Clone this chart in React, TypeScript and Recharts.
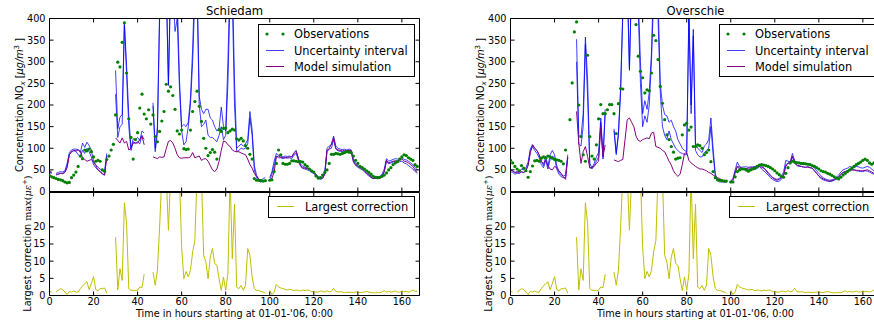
// NOx concentraties Schiedam / Overschie met grootste correctie eronder
import React from "react";
import { ComposedChart, Line, XAxis, YAxis } from "recharts";

const HOURS: number[] = Array.from({ length: 168 }, (_, i) => i);
const HOUR_TICKS = [0, 20, 40, 60, 80, 100, 120, 140, 160];
const CONC_TICKS = [0, 50, 100, 150, 200, 250, 300, 350, 400];
const CORR_TICKS = [0, 5, 10, 15, 20];

type V = number | null;

const schiedamObs: V[] = [
  37, 34, 32, 30, 28, 27, 25, 22, 20, 21,
  32, 38, 45, 58, 82, 76, 96, 94, 98, 92,
  80, 70, 72, 70, 50, 47, 74, 82, 96, 109,
  177, 299, 288, 345, 390, 274, 168, 125, 75, 120,
  136, 193, 225, 179, 168, 189, 156, 177, 127, 115,
  139, 163, 185, 248, 232, 242, 222, 190, 140, 133,
  142, 99, 97, 98, 142, 185, 208, 232, 197, 162,
  123, 100, 83, 90, 97, 91, 75, 143, 139, 146,
  147, 136, 140, 144, 142, 122, 119, 123, 117, 106,
  100, 86, 75, 30, 26, 26, 25, 24, 25, null,
  26, 27, 46, 65, 96, 85, 65, 63, 63, 65,
  71, 71, 70, 69, 69, 68, 62, 58, 52, 48,
  45, 36, 31, 32, 38, 44, 50, 65, 86, 86,
  88, 87, 86, 88, 90, 92, 91, 90, 82, 72,
  65, 58, 55, 52, 48, 44, 40, 35, 33, 32,
  33, 35, 38, 43, 50, 55, 62, 66, 69, 75,
  80, 85, 83, 78, 75, 72, 62, 58,
];

const schiedamModel: V[] = [
  45, 44, null, 40, 40, 42, 41, 44, 55, 85,
  92, 95, 94, 96, 93, 78, 74, 70, 72, 74,
  68, 60, 50, 46, 42, 38, 80, null, null, null,
  124, 118, 112, 124, 112, 116, 96, 100, 112, 112,
  112, 120, 128, 108, null, null, null, 80, 78, 76,
  80, 79, 80, 99, 116, 118, 112, 100, 85, 78,
  77, 78, 78, 78, 80, 90, 78, 80, 82, 72,
  75, 76, 70, 60, 50, 46, 52, 70, 95, 117,
  115, 108, 104, 96, 93, 92, 92, 89, 87, 85,
  75, 62, 54, 42, 35, 29, 26, 25, 25, null,
  26, 30, 46, 80, 82, 79, 78, 78, 79, 80,
  80, 88, 93, 77, 60, 55, 54, 53, 51, 48,
  45, 38, 32, 30, 31, 40, 95, 99, 110, 125,
  100, 96, 95, 94, 95, 94, 95, 94, 70, 62,
  58, 55, 52, 48, 42, 38, 33, 30, 30, 30,
  30, 35, 46, 72, 66, 68, 70, 71, 71, 72,
  75, 70, 69, 66, 62, 58, 50, 45,
];

const schiedamHigh: V[] = [
  47, 45, null, 42, 44, 46, 45, 48, 65, 90,
  96, 98, 98, 97, 90, 112, 102, 114, 106, 96,
  70, 62, 56, 52, 48, 47, 88, null, null, null,
  280, 145, 172, 178, 392, 292, 175, 100, 122, 120,
  125, 118, 140, 135, null, null, null, 205, 100, 150,
  420, 520, 500, 500, 250, 500, 500, 420, 450, 260,
  150, 155, 150, 160, 215, 330, 500, 500, 220, 190,
  180, 190, 190, 170, 165, 150, 140, 145, 195, 150,
  140, 300, 500, 500, 255, 100, 105, 110, 105, 110,
  120, 185, 143, 60, 38, 28, 26, 30, 32, null,
  32, 46, 70, 88, 84, 82, 80, 82, 81, 82,
  80, 90, 95, 76, 64, 58, 56, 54, 52, 48,
  46, 40, 34, 32, 34, 45, 100, 105, 108, 128,
  105, 100, 98, 97, 98, 96, 98, 96, 74, 65,
  60, 57, 54, 50, 45, 40, 36, 34, 34, 34,
  35, 40, 52, 76, 70, 72, 74, 76, 75, 76,
  78, 74, 73, 70, 66, 62, 56, 50,
];

const schiedamLow: V[] = [
  43, 42, null, 38, 40, 42, 42, 45, 58, 85,
  92, 94, 93, 85, 82, 95, 88, 100, 92, 80,
  62, 55, 50, 46, 40, 38, 82, null, null, null,
  225, 125, 150, 155, 385, 270, 150, 95, 115, 112,
  115, 110, 130, 120, null, null, null, 198, 92, 135,
  400, 500, 480, 470, 245, 480, 470, 370, 400, 240,
  140, 108, 115, 150, 200, 300, 450, 450, 200, 150,
  155, 165, 130, 125, 125, 120, 115, 130, 150, 120,
  130, 250, 450, 450, 200, 92, 95, 100, 98, 100,
  110, 170, 130, 50, 32, 24, 22, 24, 26, null,
  26, 40, 60, 82, 78, 78, 76, 78, 77, 78,
  76, 84, 88, 72, 58, 53, 52, 50, 48, 44,
  42, 35, 30, 28, 30, 40, 92, 98, 100, 120,
  98, 94, 93, 92, 92, 91, 93, 90, 68, 60,
  56, 53, 50, 46, 40, 36, 32, 30, 30, 30,
  31, 36, 46, 70, 64, 66, 68, 70, 68, 69,
  70, 66, 64, 60, 56, 52, 46, 42,
];

const overschieObs: V[] = [
  72, 66, 58, 52, 48, 60, 54, 48, 33, 46,
  59, 71, 72, 70, 77, 80, 77, 82, 80, 77,
  74, 73, 72, 70, 64, 96, null, 166, 251, 369,
  392, 200, 127, 85, 70, 315, 127, 82, 75, 108,
  168, 201, 180, 180, 189, 201, 201, 180, 134, 203,
  238, 237, null, null, null, null, null, 386, 313, 278,
  263, 228, 235, 233, 274, 361, 349, 305, 243, 204,
  166, 131, 120, 104, 91, 75, 77, 78, 131, 154,
  158, 142, 149, 104, 104, 108, 106, 100, 85, 90,
  96, 69, 46, 32, 27, 26, 25, 24, 24, null,
  22, 22, 34, 46, 50, 52, 52, 50, 47, 50,
  52, 54, 58, 61, 62, 61, 60, 58, 55, 52,
  48, 43, 39, 35, 33, 42, 55, 66, 70, 68,
  67, 66, 65, 65, 64, 63, 62, 60, 58, 55,
  52, 48, 46, 45, 42, 40, 37, 34, 31, 29,
  33, 38, 42, 46, 50, 54, 58, 62, 65, 68,
  72, 75, 72, 66, 63, 66, 60, 58,
];

const overschieModel: V[] = [
  50, 48, 44, 45, 43, 46, 44, 48, 60, 90,
  108, 100, 95, 85, 70, 65, 72, 60, 52, 50,
  58, 55, 48, 42, 34, 28, 80, null, null, null,
  185, 112, 65, 92, 104, 81, 54, 56, 58, 65,
  70, 150, 81, 108, null, null, null, 73, 71, 69,
  72, 74, 120, 166, 170, 160, 150, 128, 118, 116,
  120, 122, 124, 122, 135, 137, 104, 102, 100, 95,
  92, 81, 70, 61, 48, 40, 35, 40, 62, 88,
  90, 72, 66, 62, 58, 55, 52, 52, 50, 48,
  44, 42, 38, 35, 32, 30, 26, 25, 23, null,
  23, 28, 45, 58, 56, 54, 53, 53, 54, 55,
  55, 56, 57, 58, 56, 54, 48, 42, 36, 32,
  28, 26, 28, 32, 38, 58, 66, 68, 82, 68,
  61, 60, 58, 57, 56, 56, 55, 54, 48, 42,
  36, 32, 29, 27, 25, 24, 25, 27, 30, 34,
  40, 44, 46, 48, 50, 50, 50, 49, 49, 48,
  48, 49, 50, 48, 45, 42, 40, 38,
];

const overschieHigh: V[] = [
  50, 47, 44, 46, 45, 52, 50, 55, 68, 98,
  108, 100, 95, 85, 70, 60, 82, 58, 85, 95,
  85, 60, 45, 38, 36, 38, 85, null, null, null,
  352, 130, 125, 180, 357, 260, 65, 55, 65, 80,
  90, 170, 80, 190, null, null, null, 145, 90, 135,
  240, 420, 500, 500, 285, 500, 500, 500, 450, 300,
  180, 210, 190, 230, 320, 500, 500, 450, 250, 200,
  178, 175, 160, 165, 150, 140, 120, 110, 100, 95,
  92, 420, 200, 375, 110, 100, 95, 90, 105, 110,
  120, 170, 100, 40, 28, 26, 25, 26, 24, null,
  24, 30, 50, 68, 58, 56, 57, 57, 56, 57,
  57, 58, 58, 62, 58, 55, 50, 44, 38, 33,
  30, 28, 30, 35, 45, 72, 70, 68, 88, 72,
  66, 65, 64, 62, 64, 65, 62, 60, 54, 48,
  42, 36, 32, 29, 27, 26, 27, 29, 33, 38,
  45, 50, 52, 54, 58, 56, 56, 58, 57, 55,
  54, 56, 58, 56, 52, 48, 45, 42,
];

const overschieLow: V[] = [
  46, 44, 40, 42, 42, 45, 44, 48, 62, 92,
  104, 95, 88, 78, 62, 55, 72, 52, 75, 82,
  78, 52, 40, 34, 32, 32, 78, null, null, null,
  300, 110, 105, 150, 340, 220, 58, 52, 60, 70,
  80, 160, 75, 180, null, null, null, 140, 85, 130,
  230, 410, 480, 480, 280, 480, 480, 480, 420, 250,
  150, 175, 160, 200, 300, 450, 450, 400, 230, 150,
  130, 120, 140, 120, 110, 100, 95, 90, 88, 85,
  85, 400, 180, 360, 95, 85, 80, 80, 90, 95,
  100, 150, 85, 35, 25, 22, 22, 22, 21, null,
  20, 25, 42, 58, 52, 52, 52, 52, 51, 52,
  52, 52, 53, 58, 52, 48, 43, 38, 32, 28,
  25, 23, 24, 28, 36, 62, 65, 64, 80, 66,
  60, 58, 58, 56, 56, 58, 55, 54, 48, 42,
  35, 30, 27, 25, 24, 23, 24, 26, 29, 33,
  39, 44, 46, 47, 48, 50, 50, 48, 47, 46,
  46, 48, 47, 45, 42, 40, 38, 36,
];

// zelfde correctiereeks in beide panelen
const largestCorrection: V[] = [
  1.2, 1.0, null, 1.0, 1.5, 2.0, 1.7, 1.0, 0.3, 1.2,
  1.0, 1.3, 1.0, 1.0, 2.0, 2.8, 3.5, 4.0, 1.7, 3.5,
  5.5, 1.7, 1.4, 2.0, 2.0, 2.2, 0.7, null, null, null,
  17, 1.6, 7.8, 4.4, 27, 21, 2.0, 1.5, 1.5, 1.5,
  1.5, 2.5, 2.3, 6.2, null, null, null, 6.8, 3.0, 7.3,
  20, 35, 40, 35, 19, 35, 40, 40, 35, 35,
  14, 4.9, 7.0, 5.4, 7.3, 12.7, 16, 35, 40, 35,
  11.7, 9.8, 4.9, 11.2, 13.7, 9.3, 8.8, 4.9, 1.5, 5.4,
  1.5, 6.3, 35, 10.7, 26.6, 2.4, 2.0, 2.9, 1.5, 3.0,
  13.7, 11.7, 5.4, 2.0, 1.5, 1.5, 1.2, 1.0, 0.7, null,
  1.5, 0.3, 1.0, 3.2, 2.5, 2.2, 2.0, 1.8, 1.6, 1.8,
  1.7, 1.4, 1.6, 1.5, 1.3, 1.6, 1.4, 1.6, 1.5, 1.1,
  1.2, 1.0, 1.0, 1.3, 1.2, 1.0, 1.4, 1.1, 1.2, 2.1,
  1.2, 1.0, 1.1, 1.0, 0.8, 1.0, 0.9, 0.9, 0.9, 1.0,
  1.0, 0.9, 0.9, 1.0, 1.2, 1.0, 0.8, 0.8, 0.8, 0.9,
  0.8, 1.1, 1.4, 1.0, 1.2, 1.0, 1.1, 1.3, 1.0, 1.0,
  1.3, 1.1, 1.2, 1.0, 1.2, 1.6, 1.2, 1.2,
];

const FONT = "'DejaVu Sans', sans-serif";
const GREEN = "#008000";
const BLUE = "#0000ff";
const PURPLE = "#800080";
const YELLOW = "#bfbf00";
const TICK = 4;
const LABEL_SIZE = 9.7;
const LEGEND_SIZE = 11.4;

const PANEL_W = 440;
const PANEL_H = 324;
const PLOT_LEFT = 49.5;
const PLOT_RIGHT = 419.5;
// axes need a non-zero size or recharts skips drawing them
const AX = 1;

interface Row {
  h: number;
  obs: V;
  low: V;
  high: V;
  model: V;
  corr: V;
}

const xTick = (side: "top" | "bottom", withLabel: boolean) => (props: any) => {
  const { x, y, payload } = props;
  const dir = side === "bottom" ? -1 : 1;
  return (
    <g>
      <line x1={x} x2={x} y1={y} y2={y + dir * TICK} stroke="#000" />
      {withLabel && (
        <text x={x} y={y + 9} textAnchor="middle" fontSize={LABEL_SIZE} fontFamily={FONT} fill="#000">
          {payload.value}
        </text>
      )}
    </g>
  );
};

const yTick = (side: "left" | "right", withLabel: boolean) => (props: any) => {
  const { x, y, payload } = props;
  const dir = side === "left" ? 1 : -1;
  return (
    <g>
      <line x1={x} x2={x + dir * TICK} y1={y} y2={y} stroke="#000" />
      {withLabel && (
        <text x={x - 4} y={y} dy="0.35em" textAnchor="end" fontSize={LABEL_SIZE} fontFamily={FONT} fill="#000">
          {payload.value}
        </text>
      )}
    </g>
  );
};

interface SubplotProps {
  rows: Row[];
  plotTop: number;
  plotBottom: number;
  yMax: number;
  yTicks: number[];
  xLabels: boolean;
  children: React.ReactNode;
}

const Subplot: React.FC<SubplotProps> = ({ rows, plotTop, plotBottom, yMax, yTicks, xLabels, children }) => (
  <div style={{ position: "absolute", left: 0, top: 0 }}>
    <ComposedChart
      width={PANEL_W}
      height={PANEL_H}
      data={rows}
      margin={{
        top: plotTop - AX,
        bottom: PANEL_H - plotBottom - AX,
        left: PLOT_LEFT - AX,
        right: PANEL_W - PLOT_RIGHT - AX,
      }}
    >
      <XAxis
        xAxisId="b"
        dataKey="h"
        type="number"
        domain={[0, 168]}
        ticks={HOUR_TICKS}
        interval={0}
        height={AX}
        tickSize={0}
        tickMargin={0}
        tickLine={false}
        axisLine={{ stroke: "#000" }}
        tick={xTick("bottom", xLabels)}
        allowDataOverflow
      />
      <XAxis
        xAxisId="t"
        orientation="top"
        dataKey="h"
        type="number"
        domain={[0, 168]}
        ticks={HOUR_TICKS}
        interval={0}
        height={AX}
        tickSize={0}
        tickMargin={0}
        tickLine={false}
        axisLine={{ stroke: "#000" }}
        tick={xTick("top", false)}
        allowDataOverflow
      />
      <YAxis
        yAxisId="l"
        type="number"
        domain={[0, yMax]}
        ticks={yTicks}
        interval={0}
        width={AX}
        tickSize={0}
        tickMargin={0}
        tickLine={false}
        axisLine={{ stroke: "#000" }}
        tick={yTick("left", true)}
        allowDataOverflow
      />
      <YAxis
        yAxisId="r"
        orientation="right"
        type="number"
        domain={[0, yMax]}
        ticks={yTicks}
        interval={0}
        width={AX}
        tickSize={0}
        tickMargin={0}
        tickLine={false}
        axisLine={{ stroke: "#000" }}
        tick={yTick("right", false)}
        allowDataOverflow
      />
      {children}
    </ComposedChart>
  </div>
);

interface PanelProps {
  left: number;
  title: string;
  obs: V[];
  low: V[];
  high: V[];
  model: V[];
}

const Panel: React.FC<PanelProps> = ({ left, title, obs, low, high, model }) => {
  const rows: Row[] = HOURS.map((h) => ({
    h,
    obs: obs[h],
    low: low[h],
    high: high[h],
    model: model[h],
    corr: largestCorrection[h],
  }));
  const cx = (PLOT_LEFT + PLOT_RIGHT) / 2;
  return (
    <div style={{ position: "absolute", left, top: 0, width: PANEL_W, height: PANEL_H }}>
      <Subplot rows={rows} plotTop={18.5} plotBottom={191.5} yMax={400} yTicks={CONC_TICKS} xLabels={false}>
        <Line
          xAxisId="b"
          yAxisId="l"
          dataKey="obs"
          stroke="none"
          dot={{ r: 1.6, fill: GREEN, stroke: "none" }}
          activeDot={false}
          isAnimationActive={false}
        />
        <Line xAxisId="b" yAxisId="l" dataKey="low" stroke={BLUE} strokeOpacity={0.75} strokeWidth={1} dot={false} isAnimationActive={false} />
        <Line xAxisId="b" yAxisId="l" dataKey="high" stroke={BLUE} strokeOpacity={0.75} strokeWidth={1} dot={false} isAnimationActive={false} />
        <Line xAxisId="b" yAxisId="l" dataKey="model" stroke={PURPLE} strokeWidth={1} dot={false} isAnimationActive={false} />
      </Subplot>
      <Subplot rows={rows} plotTop={192.5} plotBottom={295.5} yMax={30} yTicks={CORR_TICKS} xLabels>
        <Line xAxisId="b" yAxisId="l" dataKey="corr" stroke={YELLOW} strokeWidth={1} dot={false} isAnimationActive={false} />
      </Subplot>
      <svg
        width={PANEL_W}
        height={PANEL_H}
        style={{ position: "absolute", left: 0, top: 0, pointerEvents: "none" }}
        fontFamily={FONT}
      >
        <text x={cx} y={14.5} textAnchor="middle" fontSize={11.6} fill="#000">
          {title}
        </text>
        <text transform="translate(22.5,105) rotate(-90)" textAnchor="middle" fontSize={LABEL_SIZE} fill="#000">
          <tspan>Concentration NO</tspan>
          <tspan dy={2.5} fontSize={7} fontStyle="italic">x</tspan>
          <tspan dy={-2.5}>{"  ["}</tspan>
          <tspan fontStyle="italic">μg/m</tspan>
          <tspan dy={-3.5} fontSize={7}>3</tspan>
          <tspan dy={3.5}>{" ]"}</tspan>
        </text>
        <text transform="translate(30.5,243.5) rotate(-90)" textAnchor="middle" fontSize={LABEL_SIZE} fill="#000">
          <tspan>Largest correction </tspan>
          <tspan fontFamily="'DejaVu Serif', serif">max(</tspan>
          <tspan fontFamily="'DejaVu Serif', serif" fontStyle="italic">με</tspan>
          <tspan dy={-3.5} fontSize={7}>+</tspan>
          <tspan dy={3.5} fontFamily="'DejaVu Serif', serif">)</tspan>
        </text>
        <text x={cx} y={316.5} textAnchor="middle" fontSize={LABEL_SIZE} fill="#000">
          Time in hours starting at 01-01-'06, 0:00
        </text>

        <rect x={258.5} y={24.5} width={156} height={52} fill="#fff" stroke="#000" />
        <circle cx={267} cy={34} r={1.6} fill={GREEN} />
        <circle cx={283} cy={34} r={1.6} fill={GREEN} />
        <line x1={266} x2={284} y1={50.5} y2={50.5} stroke={BLUE} strokeOpacity={0.75} />
        <line x1={266} x2={284} y1={66.5} y2={66.5} stroke={PURPLE} />
        <text x={294} y={38} fontSize={LEGEND_SIZE} fill="#000">Observations</text>
        <text x={294} y={54.5} fontSize={LEGEND_SIZE} fill="#000">Uncertainty interval</text>
        <text x={294} y={70.5} fontSize={LEGEND_SIZE} fill="#000">Model simulation</text>

        <rect x={268.5} y={196.5} width={146} height={21} fill="#fff" stroke="#000" />
        <line x1={277} x2={294} y1={206.5} y2={206.5} stroke={YELLOW} />
        <text x={305} y={210.7} fontSize={LEGEND_SIZE} fill="#000">Largest correction</text>
      </svg>
    </div>
  );
};

const App: React.FC = () => (
  <div
    style={{
      position: "absolute",
      left: 0,
      top: 0,
      width: 874,
      height: 324,
      overflow: "hidden",
      background: "#fff",
    }}
  >
    <Panel left={0} title="Schiedam" obs={schiedamObs} low={schiedamLow} high={schiedamHigh} model={schiedamModel} />
    <Panel left={461} title="Overschie" obs={overschieObs} low={overschieLow} high={overschieHigh} model={overschieModel} />
  </div>
);

export default App;
